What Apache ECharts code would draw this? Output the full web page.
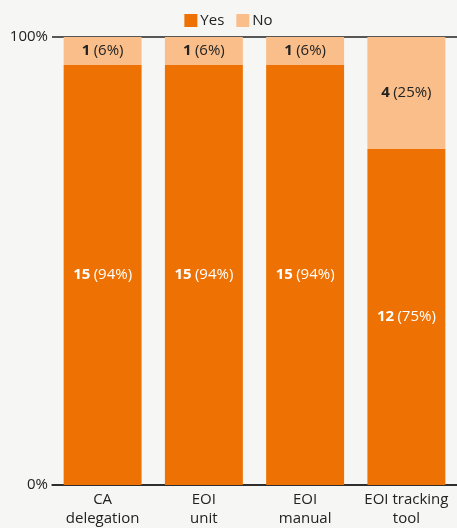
<!DOCTYPE html>
<html><head><meta charset="utf-8">
<script src="https://cdn.jsdelivr.net/npm/echarts@6/dist/echarts.min.js"></script>
<style>html,body{margin:0;padding:0;background:#f6f6f4}#c{width:457px;height:528px}</style>
</head><body><div id="c"></div>
<script>
const categories = ['CA\ndelegation', 'EOI\nunit', 'EOI\nmanual', 'EOI tracking\ntool'];
const yesCounts = [15, 15, 15, 12];
const noCounts = [1, 1, 1, 4];
const yesPct = [94, 94, 94, 75];
const noPct = [6, 6, 6, 25];
const yTicks = ['0%', '100%'];

const totals = yesCounts.map((v, i) => v + noCounts[i]);
const ff = '"Open Sans", "Noto Sans", sans-serif';
function mk(name, counts, pcts, color, textColor) {
  return {
    name, type: 'bar', stack: 'a', barWidth: '77%',
    itemStyle: { color },
    data: counts.map((v, i) => ({ value: v / totals[i] * 100, cnt: v, pct: pcts[i] })),
    label: {
      show: true, position: 'inside',
      formatter: p => '{b|' + p.data.cnt + '} {r|(' + p.data.pct + '%)}',
      rich: {
        b: { fontWeight: 'bold', fontSize: 15, color: textColor, fontFamily: ff },
        r: { fontSize: 15, color: textColor, fontFamily: ff }
      }
    }
  };
}
const chart = echarts.init(document.getElementById('c'));
chart.setOption({
  backgroundColor: '#f6f6f4',
  animation: false,
  legend: {
    top: 8, left: 'center', itemWidth: 13, itemHeight: 13, itemGap: 12,
    icon: 'rect',
    textStyle: { fontSize: 15, color: '#222', fontFamily: ff, padding: [0, 0, 0, -2] },
    data: ['Yes', 'No']
  },
  grid: { left: 52, right: 0, top: 37, bottom: 43, containLabel: false },
  xAxis: {
    type: 'category', data: categories,
    axisLine: { lineStyle: { color: '#222', width: 1.5 } },
    axisTick: { show: false },
    axisLabel: { interval: 0, fontSize: 15, color: '#222', fontFamily: ff, lineHeight: 19, margin: 5 }
  },
  yAxis: {
    type: 'value', min: 0, max: 100, interval: 100,
    axisLine: { show: false }, axisTick: { show: false },
    axisLabel: { formatter: v => yTicks[v / 100], fontSize: 15, color: '#222', fontFamily: ff, margin: 4 },
    splitLine: { lineStyle: { color: '#222', width: 1.5 } }
  },
  series: [
    mk('Yes', yesCounts, yesPct, '#ee7203', '#ffffff'),
    mk('No', noCounts, noPct, '#f9be89', '#222222')
  ]
});
</script></body></html>
